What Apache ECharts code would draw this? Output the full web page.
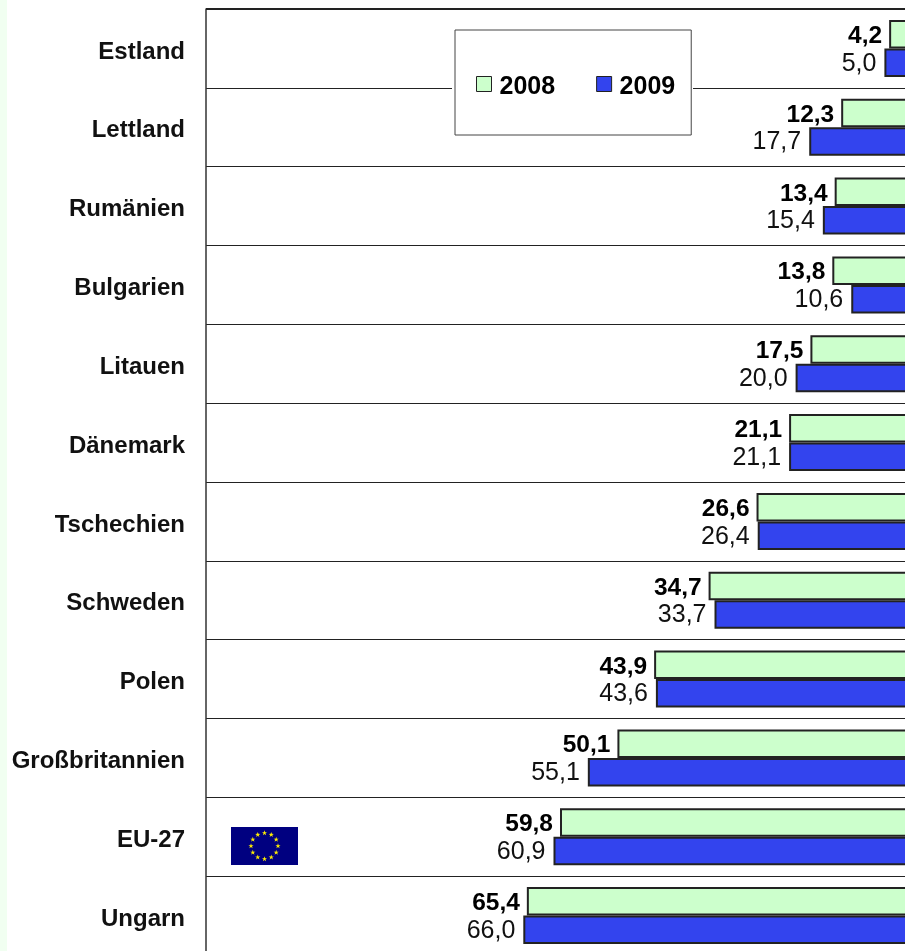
<!DOCTYPE html>
<html><head><meta charset="utf-8">
<style>html,body{margin:0;padding:0;background:#fff;overflow:hidden;width:905px;height:951px}
#c{width:930px;height:970px}</style>
<script src="https://cdn.jsdelivr.net/npm/echarts@6/dist/echarts.min.js"></script>
</head><body><div id="c"></div>
<script>
const categories=['Estland','Lettland','Rumänien','Bulgarien','Litauen','Dänemark','Tschechien','Schweden','Polen','Großbritannien','EU-27','Ungarn'];
const values2008=[4.2,12.3,13.4,13.8,17.5,21.1,26.6,34.7,43.9,50.1,59.8,65.4];
const values2009=[5.0,17.7,15.4,10.6,20.0,21.1,26.4,33.7,43.6,55.1,60.9,66.0];
const fmt=p=>p.value.toFixed(1).replace('.',',');
const FONT='"Liberation Sans",Arial,sans-serif';
function starPts(cx,cy,R){const r=R*0.4,pts=[];for(let i=0;i<10;i++){const a=-Math.PI/2+i*Math.PI/5,q=i%2?r:R;pts.push([cx+q*Math.cos(a),cy+q*Math.sin(a)]);}return pts;}
const stars=[];
for(let i=0;i<12;i++){const a=i*Math.PI/6;stars.push({type:'polygon',z:21,shape:{points:starPts(264.5+13.5*Math.sin(a),846-13*Math.cos(a),2.7)},style:{fill:'#ffee00'},silent:true});}
const chart=echarts.init(document.getElementById('c'),null,{renderer:'canvas'});
chart.setOption({
 animation:false,
 backgroundColor:'#fff',
 textStyle:{fontFamily:FONT},
 grid:{left:206,top:9,width:708,height:946,containLabel:false},
 xAxis:{type:'value',inverse:true,min:0,max:119.6,show:false},
 yAxis:{type:'category',inverse:true,data:categories,
  axisLine:{show:true,onZero:false,lineStyle:{color:'#333',width:1.5}},axisTick:{show:false},
  splitLine:{show:true,lineStyle:{color:'#222',width:1}},
  axisLabel:{margin:21,formatter:v=>'{a|'+v+'}',
   rich:{a:{color:'#111',fontSize:24,fontWeight:'bold',fontFamily:FONT,padding:[7,0,0,0]}}}},
 legend:{left:455,top:30,orient:'horizontal',icon:'rect',itemWidth:15,itemHeight:15,itemGap:41,
  padding:[45,16,35,21],backgroundColor:'#fff',borderColor:'#444',borderWidth:1,
  selectedMode:false,data:['2008','2009'],z:10,
  itemStyle:{borderColor:'#222',borderWidth:1},
  formatter:n=>'{a|'+n+'}',
  textStyle:{fontSize:25,fontWeight:'bold',color:'#000',fontFamily:FONT,
   rich:{a:{fontSize:25,fontWeight:'bold',color:'#000',fontFamily:FONT,padding:[7,0,0,3]}}}},
 series:[
  {name:'2008',type:'bar',data:values2008,barWidth:28.5,barGap:0,
   itemStyle:{color:'#ccffcc',borderColor:'#222',borderWidth:2},
   label:{show:true,position:'left',distance:7,offset:[0,2],formatter:fmt,fontSize:24.5,fontWeight:'bold',color:'#000',fontFamily:FONT}},
  {name:'2009',type:'bar',data:values2009,barWidth:28.5,
   itemStyle:{color:'#3344ee',borderColor:'#222',borderWidth:2},
   label:{show:true,position:'left',distance:8,offset:[0,1],formatter:fmt,fontSize:25,color:'#111',fontFamily:FONT}}
 ],
 graphic:[
  {type:'rect',z:1,silent:true,shape:{x:0,y:0,width:7,height:970},style:{fill:'#f1fff1'}},
  {type:'line',z:8,silent:true,shape:{x1:206,y1:9,x2:930,y2:9},style:{stroke:'#222',lineWidth:2}},
  {type:'rect',z:9,silent:true,shape:{x:452,y:80,width:241,height:16},style:{fill:'#fff'}},
  {type:'rect',z:20,silent:true,shape:{x:231,y:827,width:67,height:38},style:{fill:'#000080'}},
  ...stars
 ]
});
</script></body></html>
